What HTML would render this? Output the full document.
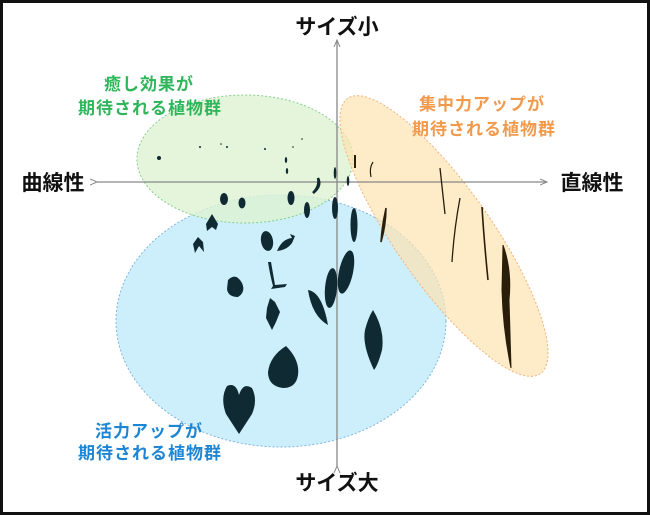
<!DOCTYPE html>
<html><head><meta charset="utf-8"><style>
html,body{margin:0;padding:0;background:#fff;}
svg{display:block;}
text{font-family:"Liberation Sans","Noto Sans CJK JP",sans-serif;font-weight:bold;}
</style></head><body>
<svg width="650" height="515" viewBox="0 0 650 515" xmlns="http://www.w3.org/2000/svg">
<defs>
<marker id="ah" markerWidth="8" markerHeight="8" refX="7" refY="4" orient="auto" markerUnits="userSpaceOnUse">
<path d="M0,1 L7,4 L0,7" fill="none" stroke="#888" stroke-width="1"/>
</marker>
</defs>
<rect x="1.5" y="1.5" width="647" height="512" fill="#fff" stroke="#111" stroke-width="3"/>

<ellipse cx="281" cy="321" rx="165" ry="126" fill="#cdeefb" stroke="#7fb6e0" stroke-width="1" stroke-dasharray="2,2"/>
<ellipse cx="245" cy="159" rx="108" ry="64" fill="#dff2d2" fill-opacity="0.8" stroke="#86cf8a" stroke-width="1" stroke-dasharray="2,2"/>
<ellipse cx="444" cy="236" rx="168" ry="48" transform="rotate(55 444 236)" fill="#fde3b0" fill-opacity="0.7" stroke="#f2b27a" stroke-width="1" stroke-dasharray="2,2"/>

<line x1="337" y1="466" x2="337" y2="40" stroke="#888" stroke-width="1.3" marker-end="url(#ah)" marker-start="url(#ah)"/>
<line x1="97" y1="182" x2="547" y2="182" stroke="#888" stroke-width="1.3" marker-end="url(#ah)" marker-start="url(#ah)"/>

<text x="337" y="34" font-size="21" text-anchor="middle" fill="#111">サイズ小</text>
<text x="337" y="490" font-size="21" text-anchor="middle" fill="#111">サイズ大</text>
<text x="53" y="190" font-size="21" text-anchor="middle" fill="#111">曲線性</text>
<text x="592" y="190" font-size="21" text-anchor="middle" fill="#111">直線性</text>

<g font-size="17" text-anchor="middle" letter-spacing="1">
<text x="149" y="90" fill="#2fb55a">癒し効果が</text>
<text x="150" y="114" fill="#2fb55a">期待される植物群</text>
<text x="482" y="110" fill="#f29a4c">集中力アップが</text>
<text x="484" y="135" fill="#f29a4c">期待される植物群</text>
<text x="149" y="437" fill="#1d86d4">活力アップが</text>
<text x="150" y="459" fill="#1d86d4">期待される植物群</text>
</g>

<g fill="#0f2a33">
<circle cx="159" cy="158" r="2"/>
<circle cx="200" cy="147" r="1"/><circle cx="221" cy="144" r="0.8"/><circle cx="227" cy="147" r="1"/>
<circle cx="265" cy="149" r="1"/><circle cx="293" cy="147" r="0.8"/><circle cx="302" cy="139" r="0.8"/>
<ellipse cx="286" cy="160" rx="1.2" ry="3"/><ellipse cx="287" cy="171" rx="1.2" ry="3"/>
<ellipse cx="335" cy="173" rx="1.3" ry="6"/><ellipse cx="348" cy="181" rx="1.3" ry="5"/>
<path d="M318,178 Q322,186 313,193 Q320,186 318,178Z" stroke="#0f2a33" stroke-width="2.5"/>
<ellipse cx="224" cy="199" rx="4" ry="6"/>
<ellipse cx="242" cy="203" rx="3.5" ry="5.5"/>
<ellipse cx="291" cy="198" rx="3.5" ry="7"/>
<ellipse cx="307" cy="210" rx="3" ry="8"/>
<ellipse cx="335" cy="208" rx="3" ry="11"/>
<ellipse cx="354" cy="225" rx="3.5" ry="17"/>
<path d="M212,214 L218,224 L216,230 L212,227 L207,231 L206,224Z"/>
<path d="M198,237 L203,242 L204,252 L199,246 L195,253 L193,244Z"/>
<ellipse cx="267" cy="241" rx="6" ry="10" transform="rotate(-10 267 241)"/>
<path d="M277,251 Q282,239 292,238 L290,234 L295,236 L292,243 Q287,250 277,251Z"/>
<path d="M268,262 L271,262 L275,285 L287,284 L285,287 L271,289 L273,286 Q270,275 268,262Z"/>
<path d="M228,280 Q236,272 242,283 Q246,292 238,297 Q228,297 227,289Z"/>
<path d="M270,298 L275,302 L280,312 L276,322 L272,330 L266,318 L267,308Z"/>
<ellipse cx="346" cy="272" rx="7" ry="22" transform="rotate(12 346 272)"/>
<ellipse cx="331" cy="288" rx="6" ry="20" transform="rotate(5 331 288)"/>
<path d="M308,290 Q322,292 328,325 Q312,316 308,290Z"/>
<path d="M373,310 Q385,330 382,350 Q378,365 374,370 Q362,345 365,330 Q368,318 373,310Z"/>
<path d="M286,346 Q300,360 298,375 Q296,388 283,388 Q268,386 268,372 Q270,356 286,346Z"/>
<path d="M227,386 Q236,382 239,395 Q243,382 252,388 Q258,400 252,414 L239,434 L226,414 Q220,398 227,386Z"/>
</g>
<g fill="#2a1e0a" stroke="#2a1e0a">
<rect x="354" y="155" width="2" height="13" stroke="none"/>
<path d="M373,162 Q369,168 371,177" fill="none" stroke-width="1.2"/>
<path d="M440,168 L445,214" fill="none" stroke-width="1.3"/>
<path d="M460,198 Q454,230 452,262" fill="none" stroke-width="1.3"/>
<path d="M482,207 Q484,240 488,280" fill="none" stroke-width="1.6"/>
<path d="M503,245 Q512,270 509,300 L511,368 Q503,330 502,290 Z" stroke-width="1"/>
<path d="M386,208 Q382,225 381,242 Q386,225 386,208Z" stroke-width="1.5"/>
</g>
</svg>
</body></html>
